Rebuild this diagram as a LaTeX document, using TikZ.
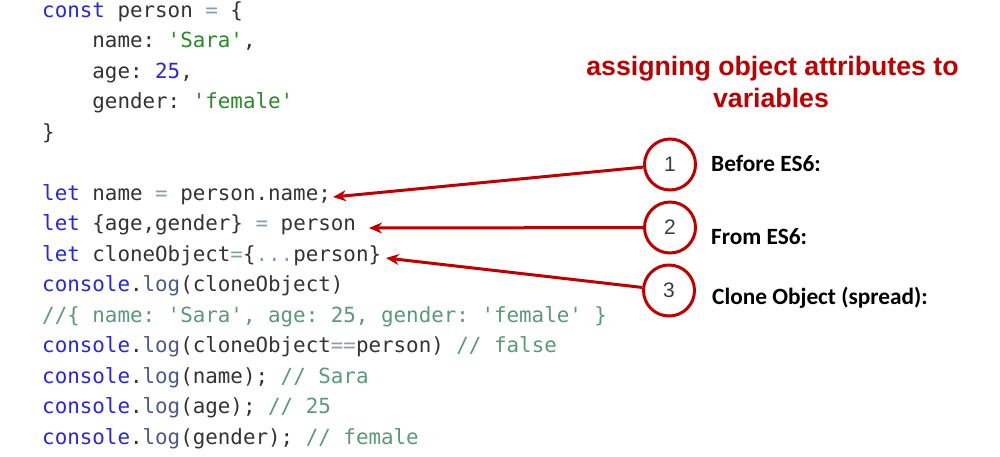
\documentclass[tikz,border=0pt]{standalone}
\usepackage{fontspec}
\setmonofont{DejaVu Sans Mono}
\newfontfamily\titlefont{Liberation Sans}[BoldFont={Liberation Sans Bold}]
\newfontfamily\numfont{Liberation Sans}
\newfontfamily\labelfont{Carlito}[BoldFont={Carlito Bold}]
\usetikzlibrary{arrows.meta}
\definecolor{kw}{HTML}{2626E6}
\definecolor{fn}{HTML}{4A5A8C}
\definecolor{idc}{HTML}{333333}
\definecolor{opc}{HTML}{8C9BB4}
\definecolor{strc}{HTML}{2A8A2A}
\definecolor{cmc}{HTML}{5A9A78}
\definecolor{accent}{HTML}{C00000}
\definecolor{digitc}{HTML}{3C3C46}
\newcommand{\K}[1]{\textcolor{kw}{#1}}
\newcommand{\F}[1]{\textcolor{fn}{#1}}
\newcommand{\Op}[1]{\textcolor{opc}{#1}}
\newcommand{\Str}[1]{\textcolor{strc}{#1}}
\newcommand{\Cm}[1]{\textcolor{cmc}{#1}}
\begin{document}
\begin{tikzpicture}[x=1pt,y=-1pt,
  code/.style={anchor=base west,inner sep=0pt,text=idc,font=\ttfamily\fontsize{20.85}{24}\selectfont\frenchspacing},
  titletext/.style={anchor=base,inner sep=0pt,text=accent,font=\titlefont\bfseries\fontsize{26.7}{31}\selectfont},
  lbl/.style={anchor=base west,inner sep=0pt,text=black,font=\labelfont\bfseries\fontsize{23.3}{27}\selectfont},
  numcircle/.style={circle,draw=accent,line width=3pt,fill=white,minimum size=51pt,inner sep=0pt,text=digitc,font=\numfont\fontsize{21}{24}\selectfont},
  arr/.style={draw=accent,line width=3pt,-{Stealth[length=13pt,width=11pt]}}
]
\fill[white] (0,0) rectangle (1000,456);
\useasboundingbox (0,0) rectangle (1000,456);

% code lines
\node[code] (l0) at (42,17) {\K{const} person \Op{=} \{};
\node[code] (l1) at (92.2,47.5) {name: \Str{'Sara'},};
\node[code] (l2) at (92.2,78) {age: \K{25},};
\node[code] (l3) at (92.2,108.5) {gender: \Str{'female'}};
\node[code] (l4) at (42,139) {\}};
\node[code] (l6) at (42,200) {\K{let} name \Op{=} person.name;};
\node[code] (l7) at (42,230.5) {\K{let} \{age,gender\} \Op{=} person};
\node[code] (l8) at (42,261) {\K{let} cloneObject\Op{=}\{\Op{...}person\}};
\node[code] (l9) at (42,291.5) {\K{console}.\F{log}(cloneObject)};
\node[code] (l10) at (42,322) {\Cm{//\{ name: 'Sara', age: 25, gender: 'female' \}}};
\node[code] (l11) at (42,352.5) {\K{console}.\F{log}(cloneObject\Op{==}person) \Cm{// false}};
\node[code] (l12) at (42,383) {\K{console}.\F{log}(name); \Cm{// Sara}};
\node[code] (l13) at (42,413.5) {\K{console}.\F{log}(age); \Cm{// 25}};
\node[code] (l14) at (42,444) {\K{console}.\F{log}(gender); \Cm{// female}};

% title
\node[titletext] (title1) at (772.5,75) {assigning object attributes to};
\node[titletext] (title2) at (771,107) {variables};

% circles
\node[numcircle] (c1) at (670,164.5) {1};
\node[numcircle] (c2) at (670,227.5) {2};
\node[numcircle] (c3) at (669,290.5) {3};

% labels
\node[lbl] (b1) at (711,171) {Before ES6:};
\node[lbl] (b2) at (711,244) {From ES6:};
\node[lbl] (b3) at (712,304) {Clone Object (spread):};

% arrow targets
\coordinate (t1) at (333,197);
\coordinate (t2) at (369,228);
\coordinate (t3) at (386,258);

\draw[arr] (c1) -- (t1);
\draw[arr] (c2) -- (t2);
\draw[arr] (c3) -- (t3);
\end{tikzpicture}
\end{document}
